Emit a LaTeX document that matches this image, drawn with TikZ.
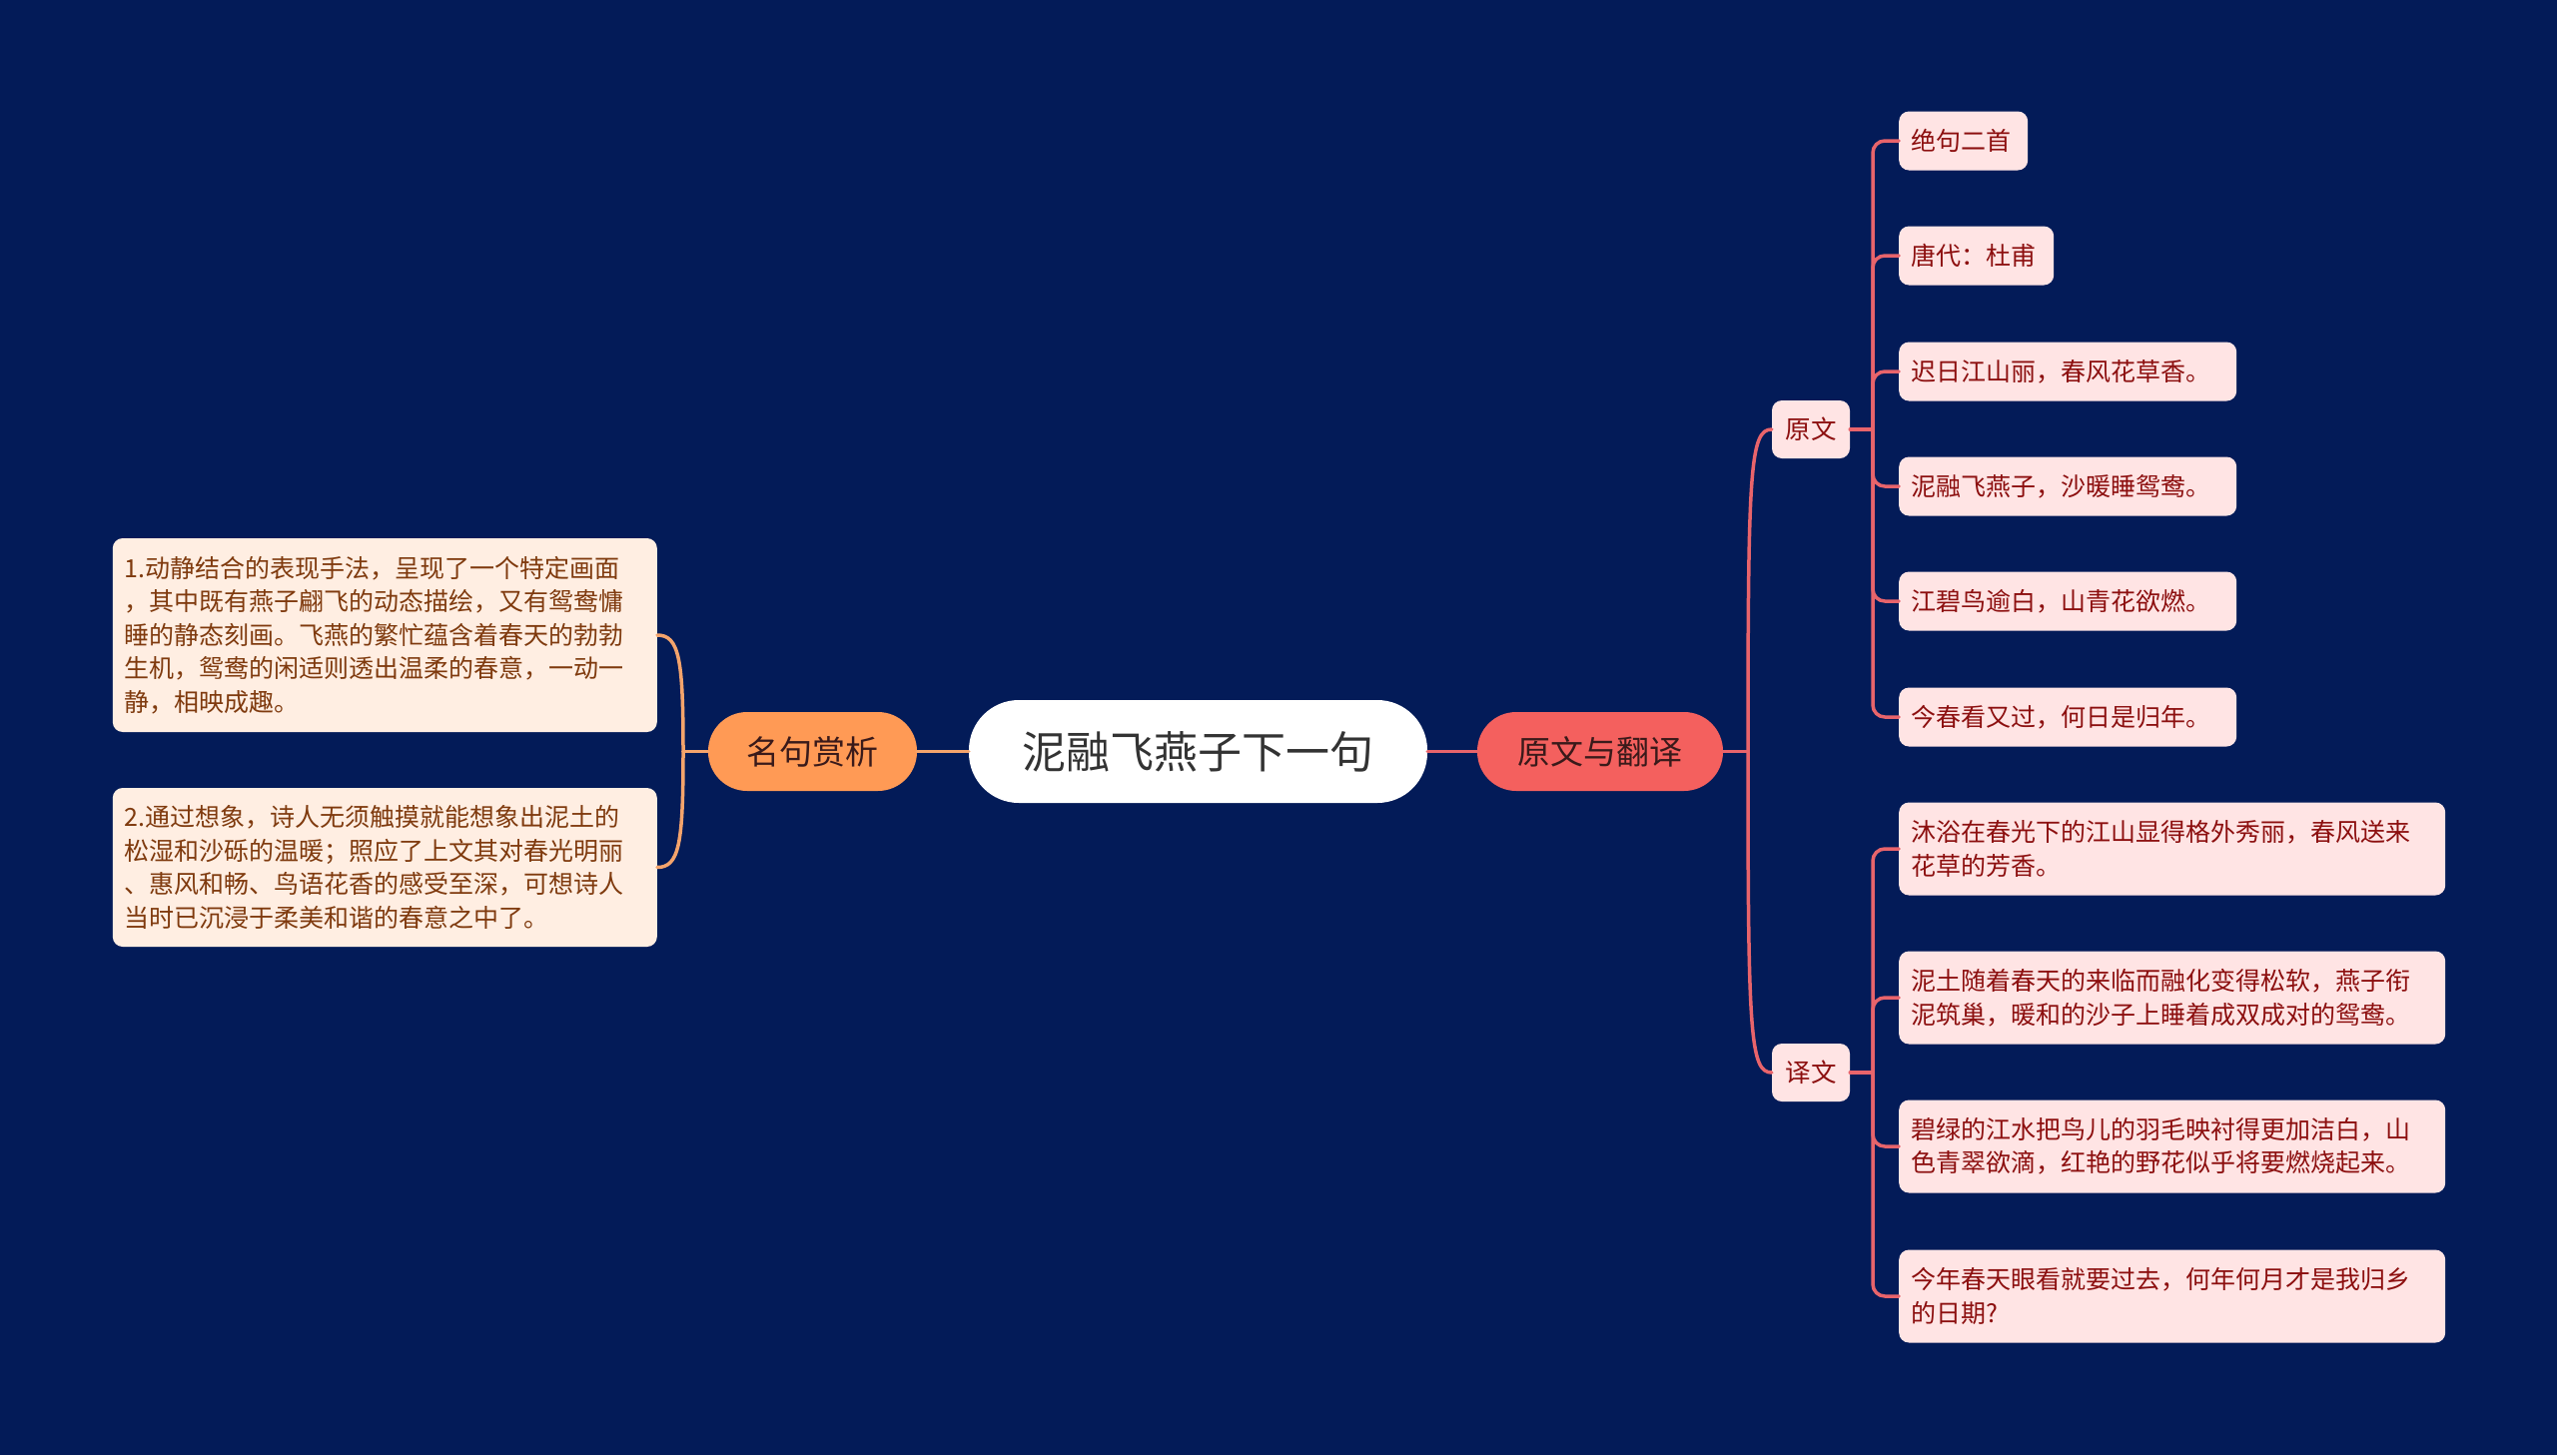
\documentclass[tikz,border=0pt]{standalone}
\usepackage{fontspec}
\setmainfont{Noto Sans CJK SC}
\definecolor{bgc}{HTML}{031B58}
\definecolor{rline}{HTML}{E8646B}
\definecolor{lline}{HTML}{F4A46C}
\definecolor{mainr}{HTML}{F4605E}
\definecolor{mainl}{HTML}{FF9A55}
\definecolor{mtext}{HTML}{3A1A1A}
\definecolor{ctext}{HTML}{333333}
\definecolor{rfill}{HTML}{FFE4E4}
\definecolor{rtext}{HTML}{8C0F0F}
\definecolor{lfill}{HTML}{FFEEE2}
\definecolor{ltext}{HTML}{7F3A0E}
\begin{document}
\begin{tikzpicture}[x=1pt,y=-1pt,
  rcon/.style={draw=rline, line width=3.5pt, line cap=round},
  lcon/.style={draw=lline, line width=3.5pt, line cap=round},
  leafR/.style={fill=rfill, text=rtext, rounded corners=10pt,
    font=\fontsize{25}{33.5}\selectfont, inner xsep=12pt, inner ysep=4pt,
    align=left, anchor=west},
  leafL/.style={fill=lfill, text=ltext, rounded corners=10pt,
    font=\fontsize{25}{33.5}\selectfont, inner xsep=12pt, inner ysep=4pt,
    align=left, anchor=east, text width=521pt},
  subbox/.style={fill=rfill, text=rtext, rounded corners=10pt,
    font=\fontsize{25.5}{30}\selectfont, minimum width=78pt, minimum height=58pt, inner sep=0pt},
  mainbox/.style={rounded corners=39pt, minimum height=79pt, inner sep=0pt,
    font=\fontsize{33}{40}\selectfont, text=mtext}
]
\fill[bgc] (0,0) rectangle (2560,1457);
\useasboundingbox (0,0) rectangle (2560,1457);

% centre
\node[fill=white, rounded corners=50pt, minimum width=459pt, minimum height=103pt,
  inner sep=0pt, font=\fontsize{44}{50}\selectfont, text=ctext] (c) at (1199.5,752.5) {泥融飞燕子下一句};

% main branches
\node[mainbox, fill=mainr, minimum width=246pt] (yw) at (1602,752.5) {原文与翻译};
\node[mainbox, fill=mainl, minimum width=209pt] (mj) at (813.5,752.5) {名句赏析};

% sub nodes
\node[subbox] (yuan) at (1813,430) {原文};
\node[subbox] (yiw) at (1813,1074) {译文};

% original text leaves
\node[leafR, text width=105pt, minimum height=59pt] (c1) at (1901,141) {绝句二首};
\node[leafR, text width=131pt, minimum height=59pt] (c2) at (1901,256) {唐代：杜甫};
\node[leafR, text width=314pt, minimum height=59pt] (c3) at (1901,372) {迟日江山丽，春风花草香。};
\node[leafR, text width=314pt, minimum height=59pt] (c4) at (1901,487) {泥融飞燕子，沙暖睡鸳鸯。};
\node[leafR, text width=314pt, minimum height=59pt] (c5) at (1901,602) {江碧鸟逾白，山青花欲燃。};
\node[leafR, text width=314pt, minimum height=59pt] (c6) at (1901,718) {今春看又过，何日是归年。};

% translation leaves
\node[leafR, text width=523pt, minimum height=93pt] (t1) at (1901,850) {沐浴在春光下的江山显得格外秀丽，春风送来\\花草的芳香。};
\node[leafR, text width=523pt, minimum height=93pt] (t2) at (1901,999) {泥土随着春天的来临而融化变得松软，燕子衔\\泥筑巢，暖和的沙子上睡着成双成对的鸳鸯。};
\node[leafR, text width=523pt, minimum height=93pt] (t3) at (1901,1148) {碧绿的江水把鸟儿的羽毛映衬得更加洁白，山\\色青翠欲滴，红艳的野花似乎将要燃烧起来。};
\node[leafR, text width=523pt, minimum height=93pt] (t4) at (1901,1298) {今年春天眼看就要过去，何年何月才是我归乡\\的日期?};

% left leaves
\node[leafL, minimum height=194pt] (l1) at (658,636) {1.动静结合的表现手法，呈现了一个特定画面\\，其中既有燕子翩飞的动态描绘，又有鸳鸯慵\\睡的静态刻画。飞燕的繁忙蕴含着春天的勃勃\\生机，鸳鸯的闲适则透出温柔的春意，一动一\\静，相映成趣。};
\node[leafL, minimum height=159pt] (l2) at (658,868.5) {2.通过想象，诗人无须触摸就能想象出泥土的\\松湿和沙砾的温暖；照应了上文其对春光明丽\\、惠风和畅、鸟语花香的感受至深，可想诗人\\当时已沉浸于柔美和谐的春意之中了。};

% connectors
\coordinate (J0) at (684,752.5);
\coordinate (J1) at (1750,752.5);
\coordinate (J2) at (1875,430);
\coordinate (J3) at (1875,1074);

\draw[rcon] (c.east) -- (yw.west);
\draw[lcon] (c.west) -- (mj.east);

\draw[rcon] (yw.east) -- (J1);
\draw[rcon] (J1) .. controls (1750,470) and (1752,430) .. (yuan.west);
\draw[rcon] (J1) .. controls (1750,1035) and (1752,1074) .. (yiw.west);

\draw[rcon] (yuan.east) -- (J2);
\foreach \n in {c1,c2,c3,c4,c5,c6} \draw[rcon, rounded corners=12pt] (J2) |- (\n.west);
\draw[rcon] (yiw.east) -- (J3);
\foreach \n in {t1,t2,t3,t4} \draw[rcon, rounded corners=12pt] (J3) |- (\n.west);

\draw[lcon] (mj.west) -- (J0);
\draw[lcon] (J0) .. controls (684,660) and (680,636) .. (l1.east);
\draw[lcon] (J0) .. controls (684,845) and (680,868.5) .. (l2.east);
\end{tikzpicture}
\end{document}
